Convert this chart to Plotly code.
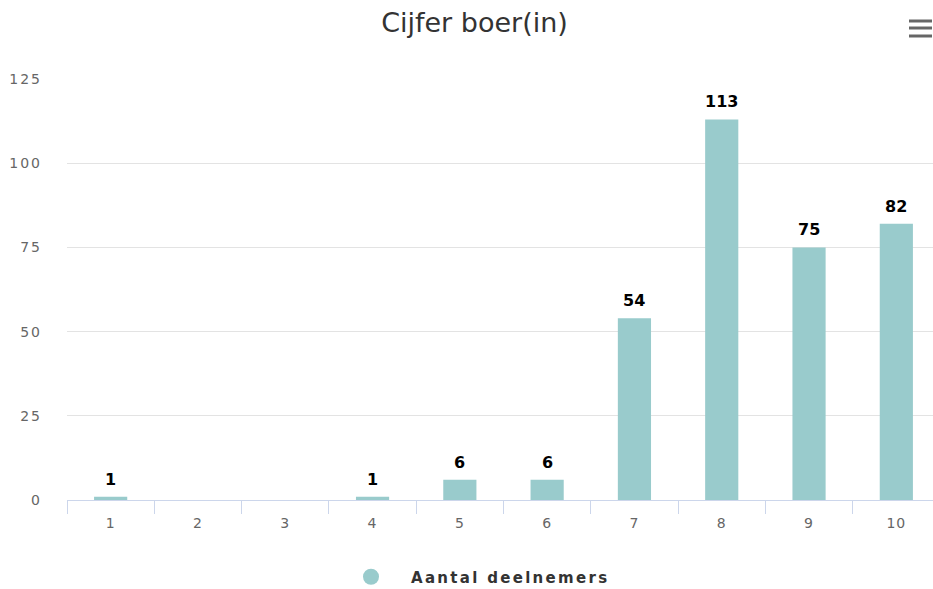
import plotly.graph_objects as go

categories = ["1", "2", "3", "4", "5", "6", "7", "8", "9", "10"]
values = [1, 0, 0, 1, 6, 6, 54, 113, 75, 82]
y_ticks = [0, 25, 50, 75, 100, 125]
series_name = "Aantal deelnemers"
title_text = "Cijfer boer(in)"

BAR_COLOR = "#99cbcc"
FONT = "DejaVu Sans"

fig = go.Figure()
fig.add_trace(go.Bar(
    x=categories, y=values, marker=dict(color=BAR_COLOR, line=dict(width=0)),
    showlegend=False, hoverinfo="x+y", name=series_name,
))
# legend entry with circle symbol
fig.add_trace(go.Scatter(
    x=[None], y=[None], mode="markers", name=series_name,
    marker=dict(color=BAR_COLOR, size=18, symbol="circle"),
))

annotations = []
for i, (c, v) in enumerate(zip(categories, values)):
    if v:
        annotations.append(dict(
            x=i, y=v, xref="x", yref="y", text="<b>%d</b>" % v, showarrow=False,
            yanchor="bottom", yshift=6,
            font=dict(family=FONT, size=16, color="#000000"),
        ))

# export menu icon
shapes = []
for py in (21, 28, 36):
    yp = (500 - py) / 421
    shapes.append(dict(type="line", xref="paper", yref="paper",
                       x0=(909 - 67) / 866, x1=(932 - 67) / 866, y0=yp, y1=yp,
                       line=dict(color="#666666", width=3)))

fig.update_layout(
    width=933, height=589, autosize=False,
    margin=dict(l=67, r=0, t=79, b=89, autoexpand=False),
    paper_bgcolor="white", plot_bgcolor="white",
    title=dict(text=title_text, x=474.5 / 933, xanchor="center",
               y=(589 - 23) / 589, yanchor="middle",
               font=dict(family=FONT, size=27, color="#333333")),
    bargap=0.62,
    xaxis=dict(type="category", range=[-0.5, 9.42], tickson="boundaries",
               ticks="outside", ticklen=13, tickcolor="#ccd6eb", tickwidth=1,
               showline=True, linecolor="#ccd6eb", linewidth=1,
               showgrid=False, zeroline=False, ticklabelstandoff=10,
               tickfont=dict(family=FONT, size=14, color="#666666")),
    yaxis=dict(range=[0, 125], tickvals=y_ticks, showgrid=True,
               gridcolor="#e3e3e3", gridwidth=1, zeroline=False, showline=False,
               ticks="", ticklabelstandoff=24,
               tickfont=dict(family=FONT, size=14, color="#666666")),
    legend=dict(orientation="h", x=(351 - 67) / 866, xanchor="left",
                y=(500 - 577) / 421, yanchor="middle",
                font=dict(family=FONT, size=15, color="#333333"),
                itemsizing="trace"),
    annotations=annotations,
    shapes=shapes,
)

post = """
document.body.style.margin='0';
document.body.style.padding='0';
var gd = document.getElementsByClassName('plotly-graph-div')[0];
function spacing(){
  gd.querySelectorAll('.ytick text').forEach(function(t){t.style.letterSpacing='2px';});
  gd.querySelectorAll('.xtick text').forEach(function(t){t.style.letterSpacing='1px';});
  gd.querySelectorAll('.legendtext').forEach(function(t){
    t.style.letterSpacing='2.3px'; t.style.fontWeight='bold';
    t.setAttribute('transform','translate(20,0)');
  });
  gd.querySelectorAll('.legend [clip-path]').forEach(function(e){e.removeAttribute('clip-path');});
}
spacing();
gd.on('plotly_afterplot', spacing);
"""
fig.write_html("out.html", post_script=post, config={"displayModeBar": False})
